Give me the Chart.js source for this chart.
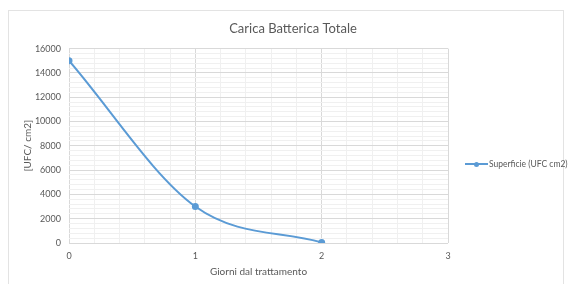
<!DOCTYPE html>
<html><head><meta charset="utf-8">
<script src="https://cdn.jsdelivr.net/npm/chart.js@4/dist/chart.umd.min.js"></script>
<style>
html,body{margin:0;padding:0;background:#fff;overflow:hidden;width:574px;height:284px;}
#frame{position:absolute;left:8px;top:10px;width:556px;height:300px;border:1px solid #e3e3e3;box-sizing:border-box;}
#wrap{position:absolute;left:0;top:0;width:574px;height:284px;}
#legend{position:absolute;left:465px;top:159px;font-family:Lato,"Open Sans",sans-serif;font-size:8.5px;color:#595959;white-space:nowrap;display:flex;align-items:center;}
#legend .sym{position:relative;width:23px;height:10px;margin-right:1px;}
#legend .sym .ln{position:absolute;left:0;top:4px;width:23px;height:2px;background:#5b9bd5;}
#legend .sym .dt{position:absolute;left:9px;top:2.5px;width:5px;height:5px;border-radius:50%;background:#5b9bd5;}
</style></head>
<body>
<div id="frame"></div>
<div id="wrap"><canvas id="c" width="574" height="284"></canvas></div>
<div id="legend"><div class="sym"><div class="ln"></div><div class="dt"></div></div><span id="legtext"></span></div>
<script>
const chartTitle = "Carica Batterica Totale";
const seriesName = "Superficie (UFC cm2)";
const xAxisTitle = "Giorni dal trattamento";
const yAxisTitle = "[UFC/ cm2]";
const days = [0, 1, 2];
const ufc = [15000, 3000, 50];

document.getElementById('legtext').textContent = seriesName;
const FONT = 'Lato, "Open Sans", sans-serif';
const near = (v, m) => Math.abs(v / m - Math.round(v / m)) < 1e-6;

new Chart(document.getElementById('c'), {
  type: 'line',
  data: {
    datasets: [{
      label: seriesName,
      data: days.map((d, i) => ({x: d, y: ufc[i]})),
      borderColor: '#5b9bd5',
      backgroundColor: '#5b9bd5',
      borderWidth: 2,
      pointRadius: 2.5,
      pointHoverRadius: 2.5,
      cubicInterpolationMode: 'monotone',
      fill: false
    }]
  },
  options: {
    responsive: false,
    animation: false,
    layout: {padding: {left: 12, right: 0, top: 0, bottom: 0}},
    plugins: {
      legend: {display: false},
      tooltip: {enabled: false},
      title: {
        display: true, text: chartTitle, color: '#595959',
        font: {family: FONT, size: 13, weight: 'normal'},
        padding: {top: 21, bottom: 12}
      }
    },
    scales: {
      x: {
        type: 'linear', min: 0, max: 3,
        afterFit: s => { s.height = 41; },
        ticks: {stepSize: 0.2, autoSkip: false, maxRotation: 0, padding: 8, color: '#595959',
          font: {family: FONT, size: 9},
          callback: v => near(v, 1) ? String(Math.round(v)) : ''},
        grid: {drawTicks: false, color: c => near(c.tick.value, 1) ? '#d9d9d9' : '#f0f0f0', lineWidth: 1},
        border: {display: false},
        title: {display: true, text: xAxisTitle, color: '#595959', font: {family: FONT, size: 10}, padding: {top: 0, bottom: 6}}
      },
      y: {
        min: 0, max: 16000,
        afterFit: s => { s.width = 57; },
        ticks: {stepSize: 400, autoSkip: false, padding: 8, color: '#595959',
          font: {family: FONT, size: 9},
          callback: v => near(v, 2000) ? String(Math.round(v)) : ''},
        grid: {drawTicks: false, color: c => near(c.tick.value, 2000) ? '#d9d9d9' : '#f0f0f0', lineWidth: 1},
        border: {display: false},
        title: {display: true, text: yAxisTitle, color: '#595959', font: {family: FONT, size: 10}, padding: {top: 10, bottom: 0}}
      },
      yRight: {
        position: 'right', min: 0, max: 1,
        afterFit: s => { s.width = 126; },
        ticks: {display: false},
        grid: {display: false, drawOnChartArea: false},
        border: {display: false},
        title: {display: false}
      }
    }
  }
});
</script>
</body></html>
